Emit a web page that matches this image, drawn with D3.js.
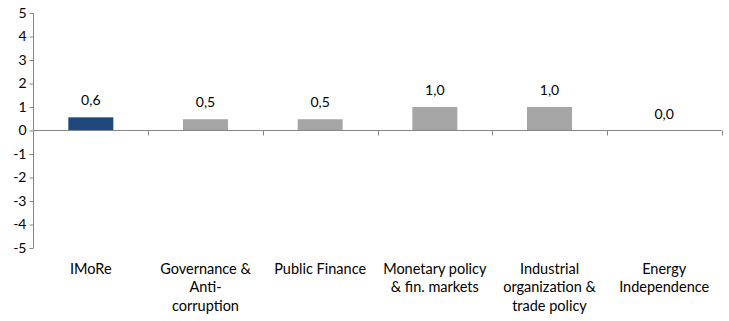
<!DOCTYPE html>
<html><head><meta charset="utf-8">
<script src="https://cdn.jsdelivr.net/npm/d3@7"></script>
<style>body{margin:0;background:#fff}svg{display:block}text{font-family:Lato,"Open Sans",sans-serif}</style>
</head><body>
<svg id="c" width="729" height="321"></svg>
<script>
const categories = ["IMoRe", "Governance & Anti-corruption", "Public Finance", "Monetary policy & fin. markets", "Industrial organization & trade policy", "Energy Independence"];
const categoryLines = [["IMoRe"], ["Governance &", "Anti-", "corruption"], ["Public Finance"], ["Monetary policy", "& fin. markets"], ["Industrial", "organization &", "trade policy"], ["Energy", "Independence"]];
const values = [0.56, 0.48, 0.48, 1.0, 1.0, 0.0];
const valueLabels = ["0,6", "0,5", "0,5", "1,0", "1,0", "0,0"];
const yTicks = [5, 4, 3, 2, 1, 0, -1, -2, -3, -4, -5];
const barColors = ["#1F497D", "#A6A6A6", "#A6A6A6", "#A6A6A6", "#A6A6A6", "#A6A6A6"];

const svg = d3.select("#c");
const x = d3.scaleBand().domain(categories).range([33.5, 721.5]).paddingInner(0).paddingOuter(0);
const y = d3.scaleLinear().domain([-5, 5]).range([248, 13]);
const axisColor = "#868686";

// y axis
const ya = svg.append("g").attr("transform", "translate(33.5,0)")
  .call(d3.axisLeft(y).tickValues(yTicks).tickSize(4).tickPadding(3).tickFormat(d => d));
ya.select(".domain").attr("stroke", axisColor).attr("d", `M0,${y(5)}V${y(-5)}`);
ya.selectAll(".tick line").attr("stroke", axisColor);
ya.selectAll(".tick text").attr("fill", "#000").style("font-size", "14px").style("font-family", "Lato, sans-serif");

// bars
const bw = 45;
svg.selectAll("rect.bar").data(values).enter().append("rect")
  .attr("x", (d, i) => x(categories[i]) + x.bandwidth() / 2 - bw / 2)
  .attr("width", bw)
  .attr("y", d => y(Math.max(0, d)))
  .attr("height", d => Math.abs(y(d) - y(0)))
  .attr("fill", (d, i) => barColors[i]);

// x axis at zero
const xa = svg.append("g").attr("transform", `translate(0,${y(0)})`)
  .call(d3.axisBottom(x).tickSize(4).tickFormat(""));
xa.select(".domain").attr("stroke", axisColor).attr("d", `M33.5,0H721.5`);
xa.selectAll(".tick").remove();
const bounds = categories.map(c => x(c)).slice(1).concat([x.range()[1]]);
xa.selectAll("line.sep").data(bounds).enter().append("line")
  .attr("x1", d => Math.round(d) + 0.5).attr("x2", d => Math.round(d) + 0.5)
  .attr("y1", 0).attr("y2", 5).attr("stroke", axisColor);

// value labels
svg.selectAll("text.val").data(values).enter().append("text")
  .attr("x", (d, i) => x(categories[i]) + x.bandwidth() / 2)
  .attr("y", d => y(Math.max(0, d)) - 12)
  .attr("text-anchor", "middle").attr("fill", "#000").style("font-size", "14px")
  .text((d, i) => valueLabels[i]);

// category labels
const cl = svg.selectAll("text.cat").data(categoryLines).enter().append("text")
  .attr("text-anchor", "middle").attr("fill", "#000").style("font-size", "14.5px");
cl.each(function(lines, i) {
  const t = d3.select(this);
  lines.forEach((ln, j) => {
    t.append("tspan").attr("x", x(categories[i]) + x.bandwidth() / 2).attr("y", 274 + j * 18.3).text(ln);
  });
});
</script>
</body></html>
